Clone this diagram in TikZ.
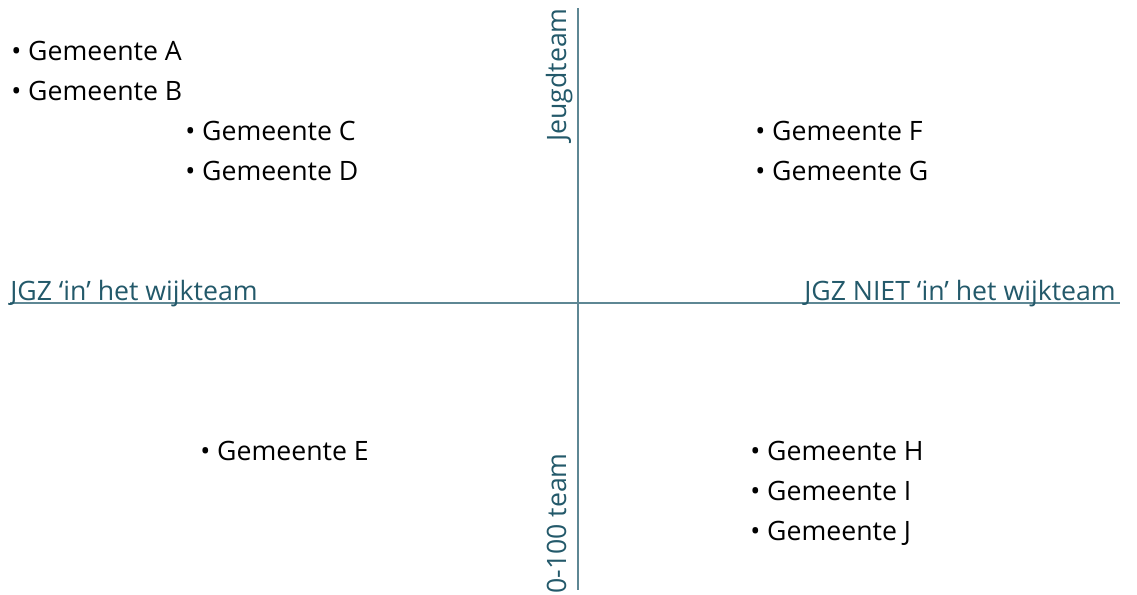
\documentclass[tikz,border=0pt]{standalone}
\usepackage{fontspec}
\setmainfont{Open Sans}
\definecolor{axisline}{HTML}{5E8794}
\definecolor{axistext}{HTML}{23596A}
\tikzset{
    gemeente/.style={anchor=base west, inner sep=0pt, font=\fontsize{20}{24}\selectfont},
    axislabel/.style={inner sep=0pt, text=axistext, font=\fontsize{20}{24}\selectfont}
}
\begin{document}
\begin{tikzpicture}[x=0.75pt, y=-0.75pt]
    % Fix the page size
    \useasboundingbox (0,0) rectangle (1137,594);

    % Axes
    \coordinate (left) at (10,303);
    \coordinate (right) at (1120,303);
    \coordinate (top) at (578,8);
    \coordinate (bottom) at (578,590);
    \draw[axisline, line width=1.2pt] (left) -- (right);
    \draw[axisline, line width=1.2pt] (top) -- (bottom);

    % Axis labels
    \node[axislabel, anchor=base west] (jgzin) at (10,300) {JGZ ‘in’ het wijkteam};
    \node[axislabel, anchor=base east] (jgzniet) at (1116,300) {JGZ NIET ‘in’ het wijkteam};
    \node[axislabel, rotate=90, anchor=base east] (jeugd) at (566,8) {Jeugdteam};
    \node[axislabel, rotate=90, anchor=base west] (nulhonderd) at (566,594) {0-100 team};

    % Upper-left quadrant
    \node[gemeente] (gemA) at (11,60.5) {• Gemeente A};
    \node[gemeente] (gemB) at (11,100.5) {• Gemeente B};
    \node[gemeente] (gemC) at (185,140.5) {• Gemeente C};
    \node[gemeente] (gemD) at (185,180.5) {• Gemeente D};

    % Upper-right quadrant
    \node[gemeente] (gemF) at (755,140.5) {• Gemeente F};
    \node[gemeente] (gemG) at (755,180.5) {• Gemeente G};

    % Lower-left quadrant
    \node[gemeente] (gemE) at (200,460.5) {• Gemeente E};

    % Lower-right quadrant
    \node[gemeente] (gemH) at (750,460.5) {• Gemeente H};
    \node[gemeente] (gemI) at (750,500.5) {• Gemeente I};
    \node[gemeente] (gemJ) at (750,540.5) {• Gemeente J};
\end{tikzpicture}
\end{document}
